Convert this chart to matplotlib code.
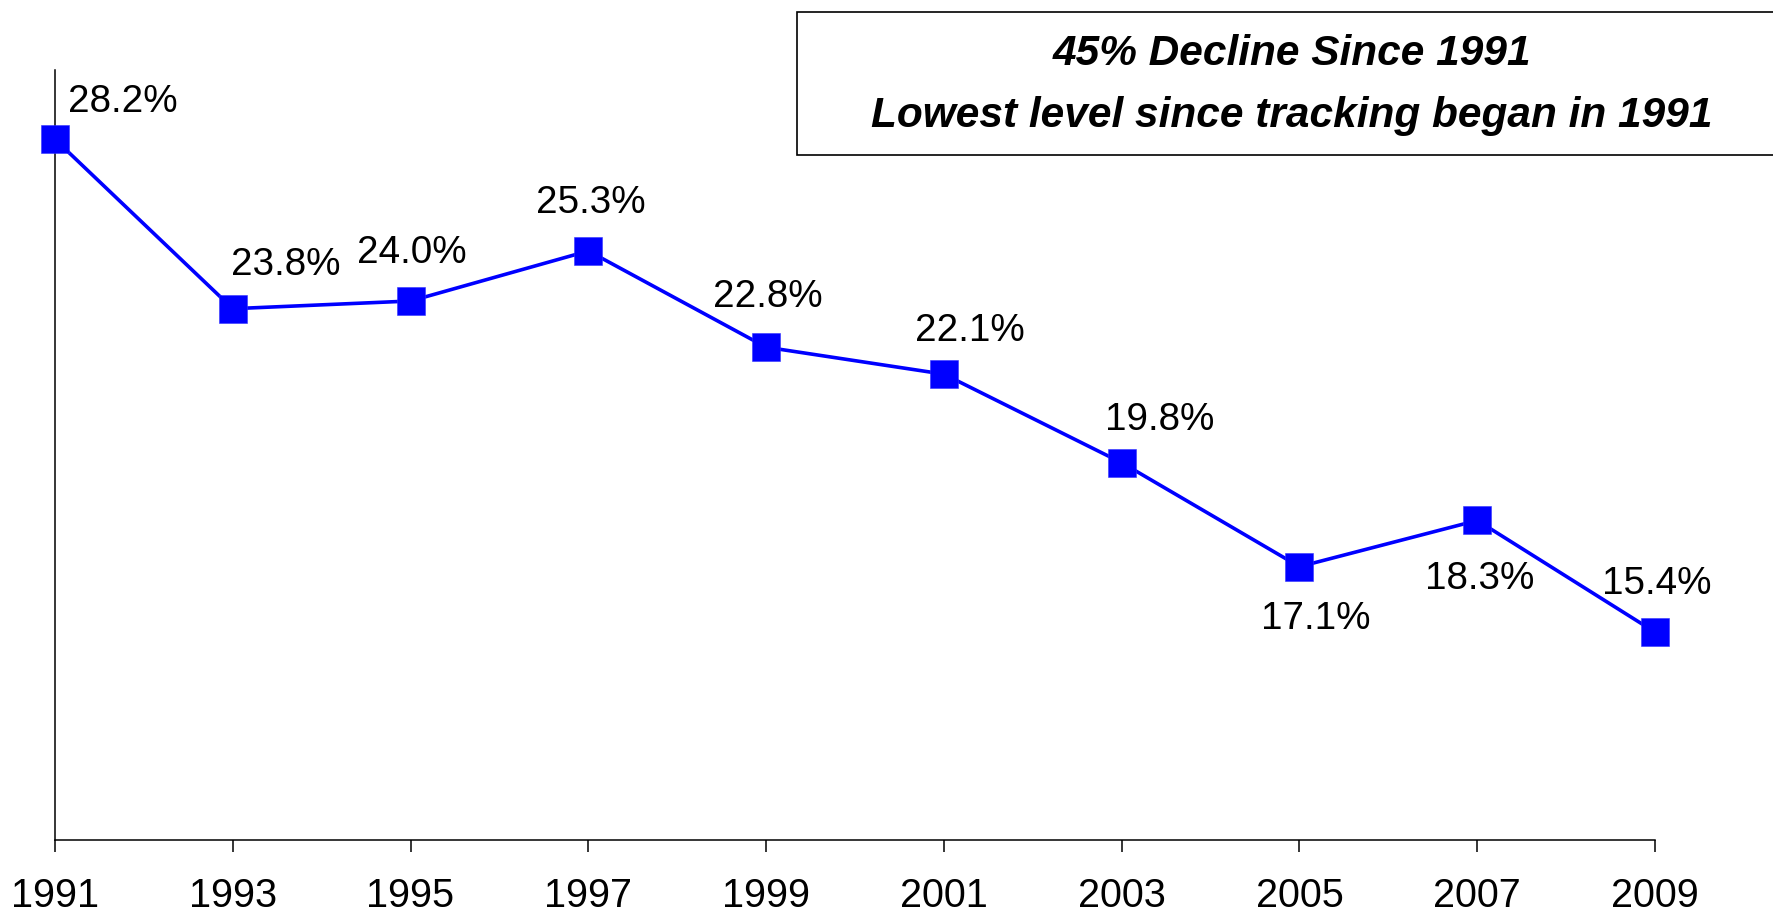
import matplotlib
matplotlib.use("Agg")
import matplotlib.pyplot as plt
from matplotlib.patches import Rectangle

plt.rcParams['font.family'] = ['Liberation Sans', 'DejaVu Sans']

# Survey years and the share reported for each
years = [1991, 1993, 1995, 1997, 1999, 2001, 2003, 2005, 2007, 2009]
rates = [28.2, 23.8, 24.0, 25.3, 22.8, 22.1, 19.8, 17.1, 18.3, 15.4]
value_labels = ["28.2%", "23.8%", "24.0%", "25.3%", "22.8%",
                "22.1%", "19.8%", "17.1%", "18.3%", "15.4%"]
# label offsets from each point, in pixels (x right, y up; baseline anchored)
label_offsets = [(68, 27), (53, 34), (1, 38), (2, 38), (1.5, 40),
                 (25.5, 33), (38, 33), (16.5, -62), (2.5, -69), (1.5, 38)]

headline = ["45% Decline Since 1991",
            "Lowest level since tracking began in 1991"]

W, H, DPI = 1773, 913, 100
fig = plt.figure(figsize=(W / DPI, H / DPI), dpi=DPI)
ax = fig.add_axes([55 / W, (H - 840) / H, (1655 - 55) / W, (840 - 70) / H])

ax.plot(years, rates, color='#0000FF', lw=2.6, marker='s', markersize=19.5,
        markerfacecolor='#0000FF', markeredgecolor='#3333FF', markeredgewidth=0.4,
        clip_on=False, zorder=3)

for x, y, txt, (dx, dy) in zip(years, rates, value_labels, label_offsets):
    ax.annotate(txt, (x, y), xytext=(dx, dy), textcoords='offset pixels',
                ha='center', va='baseline', fontsize=27.8, color='black')

ax.set_xlim(years[0], years[-1])
ax.set_ylim(10, 30)
ax.set_xticks(years)
ax.set_xticklabels([str(y) for y in years], fontsize=28.5)
ax.set_yticks([])
ax.tick_params(axis='x', direction='out', length=8.5, width=1.1, pad=18, color='black')
for side in ('top', 'right'):
    ax.spines[side].set_visible(False)
for side in ('left', 'bottom'):
    ax.spines[side].set_linewidth(1.1)
    ax.spines[side].set_color('black')

# Boxed headline in the upper right
box = Rectangle((797 / W, (H - 155) / H), (1790 - 797) / W, (155 - 12) / H,
                transform=fig.transFigure, facecolor='white', edgecolor='black',
                linewidth=1.2, zorder=5)
fig.add_artist(box)
fig.text(1292 / W, (H - 54) / H, headline[0], ha='center', va='center',
         fontsize=30.5, fontweight='bold', fontstyle='italic', zorder=6)
fig.text(1292 / W, (H - 116) / H, headline[1], ha='center', va='center',
         fontsize=30.5, fontweight='bold', fontstyle='italic', zorder=6)

fig.savefig('out.png', dpi=DPI, facecolor='white')
